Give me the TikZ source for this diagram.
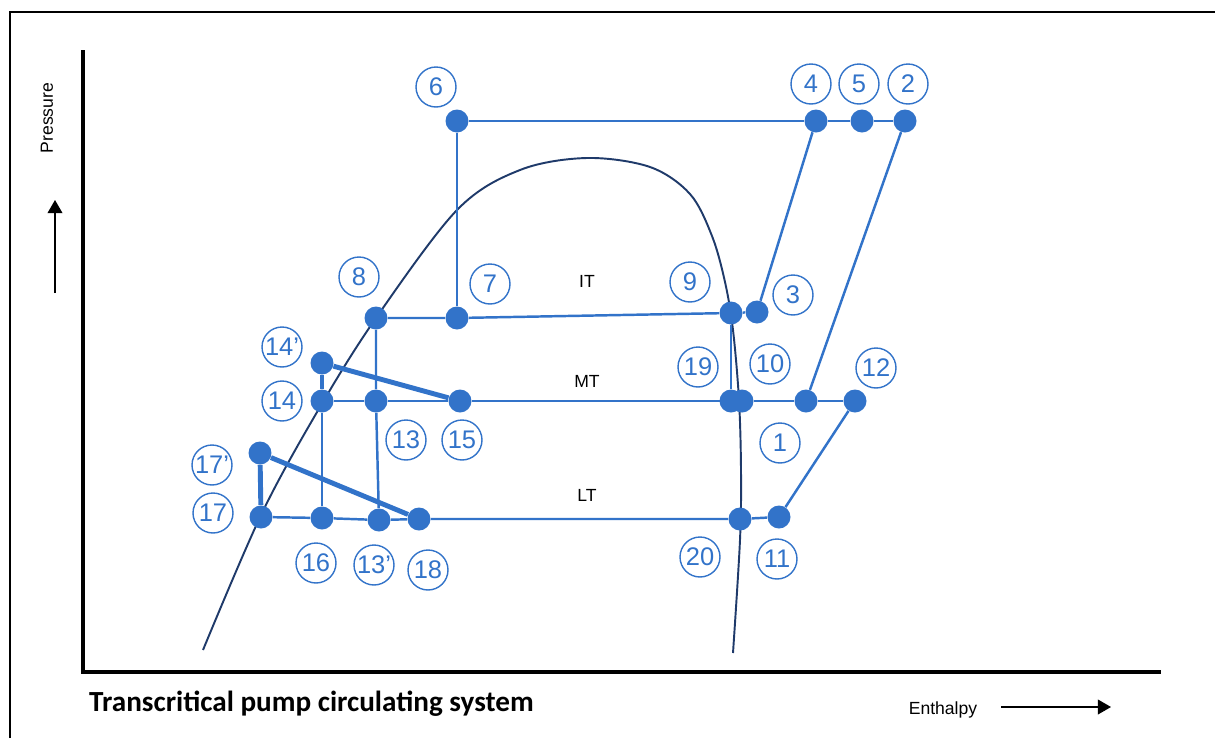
\documentclass[tikz,border=0pt]{standalone}
\usepackage{fontspec}
\setmainfont{Liberation Sans}
\newfontfamily\titlefont{Carlito}
\usetikzlibrary{arrows.meta, positioning}
\definecolor{StateBlue}{HTML}{3273C9}
\definecolor{DomeNavy}{HTML}{1F3A6A}

\begin{document}
\begin{tikzpicture}[
  x=0.02cm, y=-0.02cm,
  pt/.style={circle, fill=StateBlue, inner sep=0pt, minimum size=0.46cm},
  tag/.style={circle, draw=StateBlue, line width=0.8pt, text=StateBlue, inner sep=0pt,
    minimum size=0.8cm, font=\fontsize{14.5}{14.5}\selectfont},
  link/.style={StateBlue, line width=1.4pt},
  thick link/.style={StateBlue, line width=2.8pt},
  zone/.style={font=\fontsize{10}{10}\selectfont},
  axis arrow/.style={-{Triangle[length=7.5pt, width=8.5pt]}, line width=0.6pt}
]
\useasboundingbox (0,0) rectangle (1215,738);

% frame and axes
\draw[line width=1.7pt] (10,738) -- (10,12) -- (1215,12);
\coordinate (ytop) at (83,50);
\coordinate (origin) at (83,672);
\coordinate (xend) at (1161,672);
\draw[line width=2pt] (ytop) -- (origin) -- (xend);

\node[rotate=90, font=\fontsize{10}{10}\selectfont] (pressure) at (47,118) {Pressure};
\coordinate (pfoot) at (55,293);
\coordinate (phead) at (55,200);
\draw[axis arrow] (pfoot) -- (phead);

\node[font=\fontsize{10}{10}\selectfont] (enthalpy) at (943,710) {Enthalpy};
\coordinate (hfoot) at (1001,707);
\coordinate (hhead) at (1111,707);
\draw[axis arrow] (hfoot) -- (hhead);

\node[anchor=west, font=\titlefont\bfseries\fontsize{16.6}{16.6}\selectfont] (title) at (83,704)
  {Transcritical pump circulating system};

% saturation dome
\draw[DomeNavy, line width=1.1pt] plot[smooth, tension=0.55] coordinates {
  (203,650) (262,513) (320,407) (376,318) (457,210) (520,170) (587,158)
  (650,167) (690,194) (712,236) (725,282) (733,330) (739,400) (741,470) (740,540) (733,653)};

% pressure levels
\node[zone] (it) at (587,281) {IT};
\node[zone] (mt) at (587,381) {MT};
\node[zone] (lt) at (587,495) {LT};

% state points
\node[pt] (p6) at (457,121) {};
\node[pt] (p4) at (816,121) {};
\node[pt] (p5) at (862,121) {};
\node[pt] (p2) at (905,121) {};
\node[pt] (p8) at (376,318) {};
\node[pt] (p7) at (457,318) {};
\node[pt] (p9) at (731,313) {};
\node[pt] (p3) at (757,312) {};
\node[pt] (p14b) at (322,363) {};
\node[pt] (p14) at (322,401) {};
\node[pt] (p13) at (376,401) {};
\node[pt] (p15) at (460,401) {};
\node[pt] (p19) at (731,401) {};
\node[pt] (p10) at (742,401) {};
\node[pt] (p1) at (806,401) {};
\node[pt] (p12) at (855,401) {};
\node[pt] (p17b) at (260,453) {};
\node[pt] (p17) at (261,517) {};
\node[pt] (p16) at (322,518) {};
\node[pt] (p13b) at (379,520) {};
\node[pt] (p18) at (419,519) {};
\node[pt] (p20) at (740,519) {};
\node[pt] (p11) at (779,517) {};

% circled numbers
\node[tag] (l6) at (436,87) {6};
\node[tag] (l4) at (811,84) {4};
\node[tag] (l5) at (859,84) {5};
\node[tag] (l2) at (908,84) {2};
\node[tag] (l8) at (359,277) {8};
\node[tag] (l7) at (490,284) {7};
\node[tag] (l9) at (690,282) {9};
\node[tag] (l3) at (793,295) {3};
\node[tag] (l14b) at (282,347) {14'};
\node[tag] (l14) at (282,401) {14};
\node[tag] (l13) at (406,440) {13};
\node[tag] (l15) at (462,440) {15};
\node[tag] (l19) at (698,367) {19};
\node[tag] (l10) at (770,364) {10};
\node[tag] (l12) at (876,368) {12};
\node[tag] (l1) at (780,443) {1};
\node[tag] (l17b) at (212,465) {17'};
\node[tag] (l17) at (213,513) {17};
\node[tag] (l16) at (316,563) {16};
\node[tag] (l13b) at (374,565) {13'};
\node[tag] (l18) at (428,570) {18};
\node[tag] (l20) at (700,557) {20};
\node[tag] (l11) at (777,559) {11};

% process lines
\draw[link] (p6) -- (p4) -- (p5) -- (p2);
\draw[link] (p6) -- (p7);
\draw[link] (p8) -- (p7) -- (p9) -- (p3);
\draw[link] (p4) -- (p3);
\draw[link] (p2) -- (p1);
\draw[link] (p8) -- (p13) -- (p13b);
\draw[link] (p9) -- (p19);
\draw[link] (p14) -- (p13) -- (p15) -- (p19) -- (p10) -- (p1) -- (p12);
\draw[link] (p14) -- (p16);
\draw[link] (p17) -- (p16) -- (p13b) -- (p18) -- (p20) -- (p11);
\draw[link] (p11) -- (p12);
\draw[thick link] (p14b) -- (p14);
\draw[thick link] (p14b) -- (p15);
\draw[thick link] (p17b) -- (p17);
\draw[thick link] (p17b) -- (p18);
\end{tikzpicture}
\end{document}
